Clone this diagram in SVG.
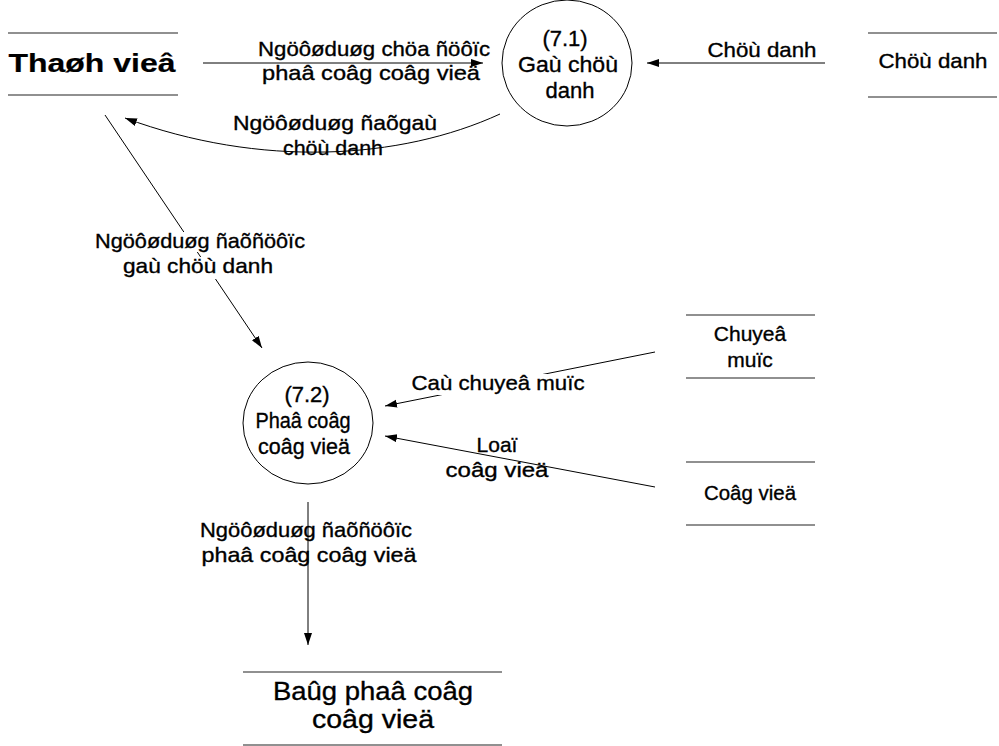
<svg xmlns="http://www.w3.org/2000/svg" width="999" height="746" viewBox="0 0 999 746">
  <style>
    text { font-family: "Liberation Sans", Arial, sans-serif; fill: #000; stroke: #000; stroke-width: 0.35; text-anchor: middle; }
    .lbl { font-size: 21px; }
    .proc { font-size: 22px; }
    .store-txt { font-size: 21px; }
    .big { font-size: 26px; }
    .actor { font-size: 25px; font-weight: bold; stroke-width: 0.2; }
    .edge { fill: none; stroke: #000; stroke-width: 1; }
    .rule { stroke: #222; stroke-width: 1.2; }
    .bubble { fill: #fff; stroke: #000; stroke-width: 1; }
    .mask { fill: #fff; }
  </style>
  <defs>
    <marker id="arrow" markerUnits="userSpaceOnUse" markerWidth="13" markerHeight="9" refX="12" refY="4" orient="auto">
      <path d="M0,0 L12,4 L0,8 z" fill="#000"/>
    </marker>
  </defs>

  <!-- connectors -->
  <g id="connectors">
    <line class="edge" x1="203" y1="63" x2="483" y2="63" marker-end="url(#arrow)"/>
    <line class="edge" x1="825" y1="63" x2="647" y2="63" marker-end="url(#arrow)"/>
    <path class="edge" d="M500,114 C400,160 260,168 125,118" marker-end="url(#arrow)"/>
    <line class="edge" x1="105" y1="115" x2="262" y2="348" marker-end="url(#arrow)"/>
    <line class="edge" x1="655" y1="352" x2="385" y2="406" marker-end="url(#arrow)"/>
    <line class="edge" x1="655" y1="487" x2="385" y2="436" marker-end="url(#arrow)"/>
    <line class="edge" x1="308" y1="502" x2="308" y2="645" marker-end="url(#arrow)"/>
  </g>

  <!-- flow labels -->
  <g id="labels">
    <text class="lbl" x="374" y="56" textLength="232" lengthAdjust="spacingAndGlyphs">Ngöôøduøg chöa ñöôïc</text>
    <text class="lbl" x="371" y="80" textLength="218" lengthAdjust="spacingAndGlyphs">phaâ coâg coâg vieä</text>

    <text class="lbl" x="762" y="57" textLength="109" lengthAdjust="spacingAndGlyphs">Chöù danh</text>

    <text class="lbl" x="335" y="130" textLength="204" lengthAdjust="spacingAndGlyphs">Ngöôøduøg ñaõgaù</text>
    <text class="lbl" x="333" y="155" textLength="100" lengthAdjust="spacingAndGlyphs">chöù danh</text>

    <rect class="mask" x="93" y="232" width="214" height="20"/>
    <rect class="mask" x="120" y="257" width="156" height="22"/>
    <text class="lbl" x="200" y="248" textLength="210" lengthAdjust="spacingAndGlyphs">Ngöôøduøg ñaõñöôïc</text>
    <text class="lbl" x="198" y="273" textLength="150" lengthAdjust="spacingAndGlyphs">gaù chöù danh</text>

    <rect class="mask" x="410" y="374" width="178" height="21"/>
    <text class="lbl" x="498" y="390" textLength="173" lengthAdjust="spacingAndGlyphs">Caù chuyeâ muïc</text>

    <text class="lbl" x="497" y="452">Loaï</text>
    <text class="lbl" x="497" y="477" textLength="103" lengthAdjust="spacingAndGlyphs">coâg vieä</text>

    <text class="lbl" x="306" y="537" textLength="212" lengthAdjust="spacingAndGlyphs">Ngöôøduøg ñaõñöôïc</text>
    <text class="lbl" x="309" y="562" textLength="215" lengthAdjust="spacingAndGlyphs">phaâ coâg coâg vieä</text>
  </g>

  <!-- external entity -->
  <g id="thanh-vien">
    <line class="rule" x1="8" y1="33" x2="178" y2="33"/>
    <line class="rule" x1="8" y1="95" x2="178" y2="95"/>
    <text class="actor" x="92" y="72" textLength="167" lengthAdjust="spacingAndGlyphs">Thaøh vieâ</text>
  </g>

  <!-- processes -->
  <g id="p71">
    <ellipse class="bubble" cx="567" cy="63" rx="65" ry="63"/>
    <text class="proc" x="565" y="46">(7.1)</text>
    <text class="proc" x="568" y="72" textLength="100" lengthAdjust="spacingAndGlyphs">Gaù chöù</text>
    <text class="proc" x="570" y="98">danh</text>
  </g>

  <g id="p72">
    <ellipse class="bubble" cx="308" cy="423" rx="65" ry="61"/>
    <text class="proc" x="307" y="402">(7.2)</text>
    <text class="proc" x="303" y="428" textLength="95" lengthAdjust="spacingAndGlyphs">Phaâ coâg</text>
    <text class="proc" x="304" y="454" textLength="92" lengthAdjust="spacingAndGlyphs">coâg vieä</text>
  </g>

  <!-- data stores -->
  <g id="chuc-danh">
    <line class="rule" x1="868" y1="33" x2="997" y2="33"/>
    <line class="rule" x1="868" y1="97" x2="997" y2="97"/>
    <text class="store-txt" x="933" y="68" textLength="109" lengthAdjust="spacingAndGlyphs">Chöù danh</text>
  </g>

  <g id="chuyen-muc">
    <line class="rule" x1="686" y1="315" x2="815" y2="315"/>
    <line class="rule" x1="686" y1="378" x2="815" y2="378"/>
    <text class="store-txt" x="750" y="341">Chuyeâ</text>
    <text class="store-txt" x="750" y="367">muïc</text>
  </g>

  <g id="cong-viec">
    <line class="rule" x1="686" y1="462" x2="815" y2="462"/>
    <line class="rule" x1="686" y1="525" x2="815" y2="525"/>
    <text class="store-txt" x="750" y="500" textLength="92" lengthAdjust="spacingAndGlyphs">Coâg vieä</text>
  </g>

  <g id="bang-phan-cong">
    <line class="rule" x1="243" y1="672" x2="502" y2="672"/>
    <line class="rule" x1="243" y1="745" x2="502" y2="745"/>
    <text class="big" x="373" y="700" textLength="200" lengthAdjust="spacingAndGlyphs">Baûg phaâ coâg</text>
    <text class="big" x="373" y="728" textLength="122" lengthAdjust="spacingAndGlyphs">coâg vieä</text>
  </g>
</svg>
